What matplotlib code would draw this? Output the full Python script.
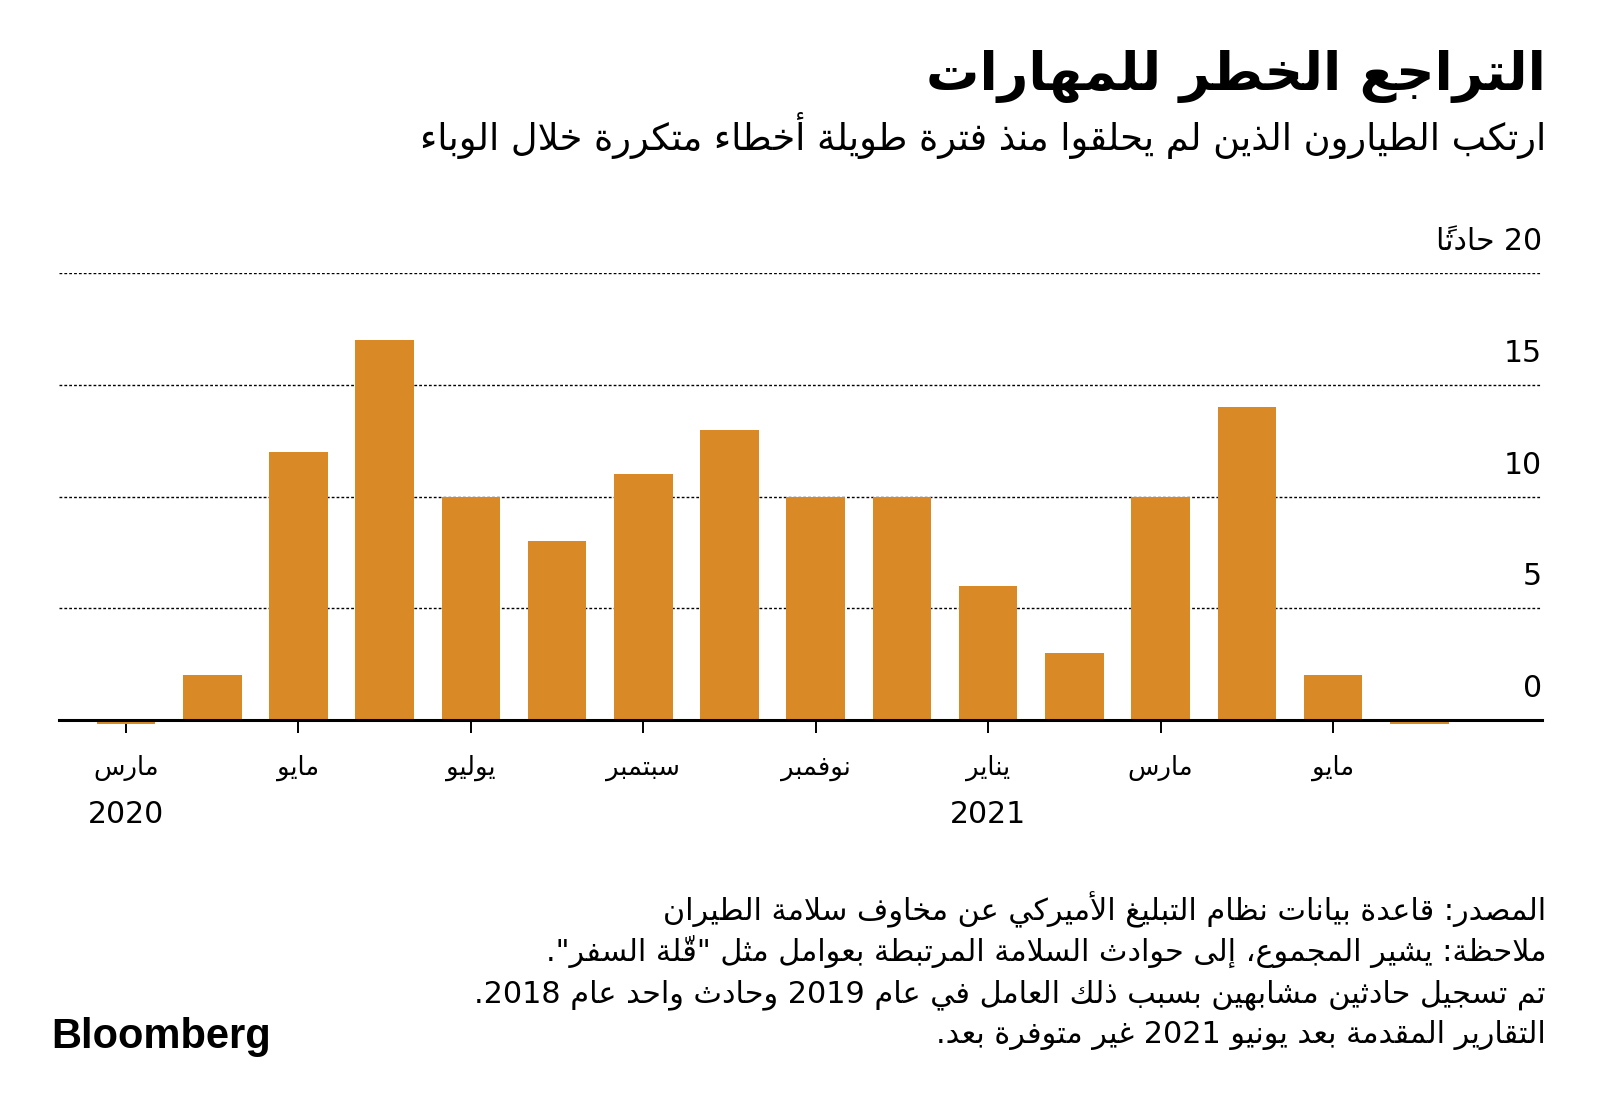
import numpy as np
import matplotlib.pyplot as plt

plt.rcParams['font.family'] = ['DejaVu Sans']

# البيانات: عدد الحوادث شهرياً من مارس 2020 إلى يونيو 2021
incidents = [0, 2, 12, 17, 10, 8, 11, 13, 10, 10, 6, 3, 10, 14, 2, 0]
tick_months = ['مارس', 'مايو', 'يوليو', 'سبتمبر', 'نوفمبر', 'يناير', 'مارس', 'مايو']
year_labels = {0: '2020', 10: '2021'}
yticks = [0, 5, 10, 15, 20]
ytick_labels = ['0', '5', '10', '15', '20 حادثاً']

title = 'التراجع الخطر للمهارات'
subtitle = 'ارتكب الطيارون الذين لم يحلقوا منذ فترة طويلة أخطاء متكررة خلال الوباء'
notes = [
    'المصدر: قاعدة بيانات نظام التبليغ الأميركي عن مخاوف سلامة الطيران',
    'ملاحظة: يشير المجموع، إلى حوادث السلامة المرتبطة بعوامل مثل "قلّة السفر".',
    'تم تسجيل حادثين مشابهين بسبب ذلك العامل في عام 2019 وحادث واحد عام 2018.',
    'التقارير المقدمة بعد يونيو 2021 غير متوفرة بعد.',
]

bar_color = '#D98A26'

# تشكيل الحروف العربية يدوياً (matplotlib لا يدعم الربط ولا الاتجاه من اليمين لليسار)
# (حرف، أول رمز في Presentation Forms-B، عدد الأشكال)
_table = [
    ('ء', 0xFE80, 1), ('آ', 0xFE81, 2), ('أ', 0xFE83, 2), ('ؤ', 0xFE85, 2),
    ('إ', 0xFE87, 2), ('ئ', 0xFE89, 4), ('ا', 0xFE8D, 2), ('ب', 0xFE8F, 4),
    ('ة', 0xFE93, 2), ('ت', 0xFE95, 4), ('ث', 0xFE99, 4), ('ج', 0xFE9D, 4),
    ('ح', 0xFEA1, 4), ('خ', 0xFEA5, 4), ('د', 0xFEA9, 2), ('ذ', 0xFEAB, 2),
    ('ر', 0xFEAD, 2), ('ز', 0xFEAF, 2), ('س', 0xFEB1, 4), ('ش', 0xFEB5, 4),
    ('ص', 0xFEB9, 4), ('ض', 0xFEBD, 4), ('ط', 0xFEC1, 4), ('ظ', 0xFEC5, 4),
    ('ع', 0xFEC9, 4), ('غ', 0xFECD, 4), ('ف', 0xFED1, 4), ('ق', 0xFED5, 4),
    ('ك', 0xFED9, 4), ('ل', 0xFEDD, 4), ('م', 0xFEE1, 4), ('ن', 0xFEE5, 4),
    ('ه', 0xFEE9, 4), ('و', 0xFEED, 2), ('ى', 0xFEEF, 2), ('ي', 0xFEF1, 4),
]
FORMS = {c: (s, n) for c, s, n in _table}
LAM_ALEF = {'آ': 0xFEF5, 'أ': 0xFEF7, 'إ': 0xFEF9, 'ا': 0xFEFB}
MARKS = set(chr(c) for c in range(0x064B, 0x0653)) | {'\u0670'}


def _nforms(item):
    if item is None:
        return 0
    b = item[0]
    if isinstance(b, tuple):
        return 2
    return FORMS.get(b, (0, 0))[1]


def ar(s):
    chars = list(s)
    items = []
    i = 0
    while i < len(chars):
        c = chars[i]
        if c in MARKS and items:
            items[-1][1].append(c)
            i += 1
            continue
        if c == 'ل':
            j = i + 1
            m = []
            while j < len(chars) and chars[j] in MARKS:
                m.append(chars[j])
                j += 1
            if j < len(chars) and chars[j] in LAM_ALEF:
                items.append([('LA', chars[j]), m])
                i = j + 1
                continue
        items.append([c, []])
        i += 1

    glyphs = []
    for k, it in enumerate(items):
        prev = items[k - 1] if k > 0 else None
        nxt = items[k + 1] if k + 1 < len(items) else None
        n = _nforms(it)
        jp = n >= 2 and _nforms(prev) == 4 and not isinstance(prev[0], tuple)
        jn = n == 4 and _nforms(nxt) >= 2
        b = it[0]
        if isinstance(b, tuple):
            g = chr(LAM_ALEF[b[1]] + (1 if jp else 0))
        elif n == 0:
            g = b
        else:
            st = FORMS[b][0]
            if jp and jn:
                g = chr(st + 3)
            elif jn:
                g = chr(st + 2)
            elif jp:
                g = chr(st + 1)
            else:
                g = chr(st)
        glyphs.append((g, ''.join(it[1])))

    # ترتيب بصري: عكس السلسلة مع إبقاء الأرقام والحروف اللاتينية من اليسار لليمين
    rev = glyphs[::-1]
    out, run = [], []
    for g in rev:
        if g[0].isascii() and g[0].isalnum():
            run.append(g)
        else:
            out.extend(run[::-1])
            run = []
            out.append(g)
    out.extend(run[::-1])
    return ''.join(a + b for a, b in out)


W, H = 1600, 1112
fig = plt.figure(figsize=(16, 11.12), dpi=100)

def fx(px):
    return px / W

def fy(py):
    return 1 - py / H

ax = fig.add_axes([fx(59), fy(720), fx(1541.7) - fx(59), fy(273.3) - fy(720)])

x = np.arange(len(incidents))
vals = np.array(incidents, dtype=float)
ax.bar(x, vals, width=0.68, color=bar_color, zorder=2)
# الأشهر بدون حوادث تظهر كخط رفيع تحت المحور
ax.bar(x[vals == 0], -0.16, width=0.68, color=bar_color, clip_on=False, zorder=1)

ax.set_xlim(-0.777, 16.42)
ax.set_ylim(0, 20)
for s in ['top', 'left', 'right']:
    ax.spines[s].set_visible(False)
ax.spines['bottom'].set_linewidth(2.2)
ax.spines['bottom'].set_zorder(3)
ax.set_axisbelow(True)

ax.set_yticks(yticks)
ax.tick_params(axis='y', length=0, labelleft=False)
ax.grid(axis='y', color='black', linestyle=(0, (2, 1.5)), linewidth=1.0)

for v, lab in zip(yticks, ytick_labels):
    ax.annotate(ar(lab), xy=(1, v), xycoords=('axes fraction', 'data'),
                xytext=(0, 23), textcoords='offset pixels',
                ha='right', va='baseline', fontsize=21.5, color='black')

ax.set_xticks(x[::2])
ax.set_xticklabels([ar(m) for m in tick_months])
ax.tick_params(axis='x', length=9.4, width=1.4, pad=30, labelsize=18.5, color='black')
for t in ax.get_xticklabels():
    t.set_va('baseline')

for i, yr in year_labels.items():
    ax.annotate(yr, xy=(i, 0), xycoords='data', xytext=(0, -103),
                textcoords='offset pixels', ha='center', va='baseline',
                fontsize=21.5)

# العنوان والعنوان الفرعي
fig.text(fx(1546), fy(90), ar(title), ha='right', va='baseline',
         fontsize=38.3, fontweight='bold')
fig.text(fx(1546), fy(150), ar(subtitle), ha='right', va='baseline',
         fontsize=26.5)

# الملاحظات
for k, line in enumerate(notes):
    fig.text(fx(1546), fy(920 + 41 * k), ar(line), ha='right', va='baseline',
             fontsize=21.8)

fig.text(fx(51), fy(1048), 'Bloomberg', ha='left', va='baseline',
         fontsize=30, fontweight='bold', family=['Liberation Sans', 'DejaVu Sans'])

fig.savefig('out.png', dpi=100)
